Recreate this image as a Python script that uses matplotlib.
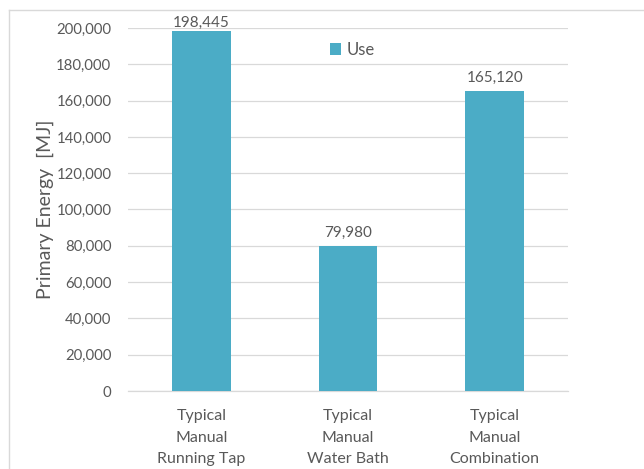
import matplotlib
matplotlib.use("Agg")
import matplotlib.pyplot as plt
from matplotlib.lines import Line2D
from matplotlib.ticker import FuncFormatter

categories = ["Typical\nManual\nRunning Tap", "Typical\nManual\nWater Bath", "Typical\nManual\nCombination"]
use_values = [198445, 79980, 165120]
series_name = "Use"
y_ticks = list(range(0, 200001, 20000))

bar_color = "#4BACC6"
text_color = "#595959"
grid_color = "#D9D9D9"

plt.rcParams["font.family"] = ["Lato", "DejaVu Sans"]

W, H = 644, 469
fig = plt.figure(figsize=(W / 100, H / 100), dpi=100)
ax_left, ax_top, ax_right, ax_bottom = 128, 28, 568, 391
ax = fig.add_axes([ax_left / W, 1 - ax_bottom / H, (ax_right - ax_left) / W, (ax_bottom - ax_top) / H])

y_max = y_ticks[-1]
x = list(range(len(categories)))
ax.bar(x, use_values, width=0.4, color=bar_color, label=series_name, zorder=3)

# value labels sit a few pixels above each bar, kept inside the plot area
px = y_max / (ax_bottom - ax_top)
for xi, v in zip(x, use_values):
    y_lab = min(v + 9 * px, y_max + 1 * px)
    ax.text(xi, y_lab, f"{v:,}", ha="center", va="baseline",
            fontsize=11, color=text_color, zorder=4)

ax.set_xlim(-0.5, len(categories) - 0.5)
ax.set_ylim(0, y_max)
ax.set_yticks(y_ticks)
ax.yaxis.set_major_formatter(FuncFormatter(lambda v, p: f"{int(v):,}"))
ax.set_xticks(x)
ax.set_xticklabels(categories, linespacing=1.7)
ax.tick_params(axis="both", length=0, colors=text_color)
ax.tick_params(axis="x", labelsize=11.5, pad=13)
ax.tick_params(axis="y", labelsize=10.7, pad=12)

ax.grid(axis="y", color=grid_color, linewidth=0.9, zorder=0)
for s in ["top", "right", "left"]:
    ax.spines[s].set_visible(False)
ax.spines["bottom"].set_color(grid_color)
ax.spines["bottom"].set_linewidth(0.9)

ax.set_ylabel("Primary Energy  [MJ]", fontsize=14, color=text_color)
ax.yaxis.set_label_coords(-0.168, 0.5)

ax.legend(loc="center", bbox_to_anchor=(0.51, 0.94), frameon=False,
          fontsize=12, handlelength=0.7, handleheight=0.7, handletextpad=0.35,
          labelcolor=text_color)

# outer chart frame
fig.add_artist(Line2D([9 / W, 1.0], [1 - 10 / H, 1 - 10 / H], color=grid_color, linewidth=1.0))
fig.add_artist(Line2D([9 / W, 9 / W], [0, 1 - 10 / H], color=grid_color, linewidth=1.0))

fig.savefig("out.png", dpi=100)
